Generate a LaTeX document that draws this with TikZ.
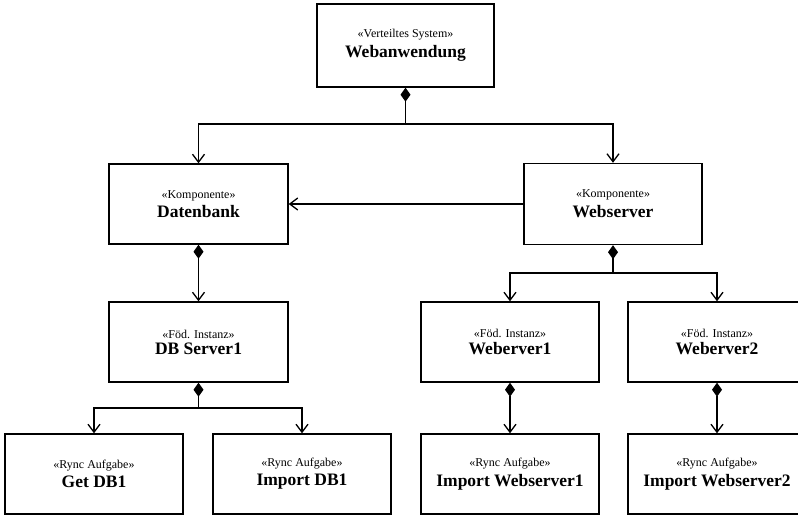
\documentclass[tikz,border=0pt]{standalone}
\usepackage{fontspec}
\setmainfont{Liberation Serif}
\usetikzlibrary{arrows.meta}
\tikzset{
  umlbox/.style={draw, line width=1.4pt, minimum width=#1, minimum height=80pt, inner sep=0pt, align=center, fill=white},
  umlbox/.default=178pt,
  link/.style={line width=1.3pt},
  arr/.style={link, -{Straight Barb[length=8pt,width=12pt,line width=1.3pt]}},
  diam/.style={link, {Diamond[length=14pt,width=10pt]}-},
  diamarr/.style={link, {Diamond[length=14pt,width=10pt]}-{Straight Barb[length=8pt,width=12pt,line width=1.3pt]}}
}
\newcommand{\stereo}[2]{{\fontsize{12}{13}\selectfont «#1»}\\[4pt]{\fontsize{17.5}{18}\selectfont\bfseries #2}}
\begin{document}
\begin{tikzpicture}[x=1pt,y=-1pt]
\useasboundingbox (0,0) rectangle (798,515);
\fill[white] (0,0) rectangle (798,515);
\node[umlbox=177pt, minimum height=83pt] (web) at (405.5,45.5) {\stereo{Verteiltes System}{Webanwendung}};
\node[umlbox=179pt] (db) at (198.5,204) {\stereo{Komponente}{Datenbank}};
\node[umlbox=178pt, minimum height=81pt] (ws) at (613,204) {\stereo{Komponente}{Webserver}};
\node[umlbox=179pt] (dbs1) at (198.5,342) {\stereo{Föd. Instanz}{DB Server1}};
\node[umlbox] (wb1) at (510,342) {\stereo{Föd. Instanz}{Weberver1}};
\node[umlbox] (wb2) at (717,342) {\stereo{Föd. Instanz}{Weberver2}};
\node[umlbox, minimum height=80pt] (get) at (94,474) {\stereo{Rync Aufgabe}{Get DB1}};
\node[umlbox, minimum height=80pt] (imp) at (302,474) {\stereo{Rync Aufgabe}{Import DB1}};
\node[umlbox, minimum height=80pt] (iw1) at (510,474) {\stereo{Rync Aufgabe}{Import Webserver1}};
\node[umlbox, minimum height=80pt] (iw2) at (717,474) {\stereo{Rync Aufgabe}{Import Webserver2}};
\coordinate (j1) at (405.5,124);
\coordinate (j2) at (613,273);
\coordinate (j3) at (198.5,408);
\draw[diam] (web.south) -- (j1);
\draw[arr] (j1) -| (db.north);
\draw[arr] (j1) -| (ws.north);
\draw[arr] (ws.west) -- (db.east);
\draw[diamarr] (db.south) -- (dbs1.north);
\draw[diam] (ws.south) -- (j2);
\draw[arr] (j2) -| (wb1.north);
\draw[arr] (j2) -| (wb2.north);
\draw[diam] (dbs1.south) -- (j3);
\draw[arr] (j3) -| (get.north);
\draw[arr] (j3) -| (imp.north);
\draw[diamarr] (wb1.south) -- (iw1.north);
\draw[diamarr] (wb2.south) -- (iw2.north);
\end{tikzpicture}
\end{document}
